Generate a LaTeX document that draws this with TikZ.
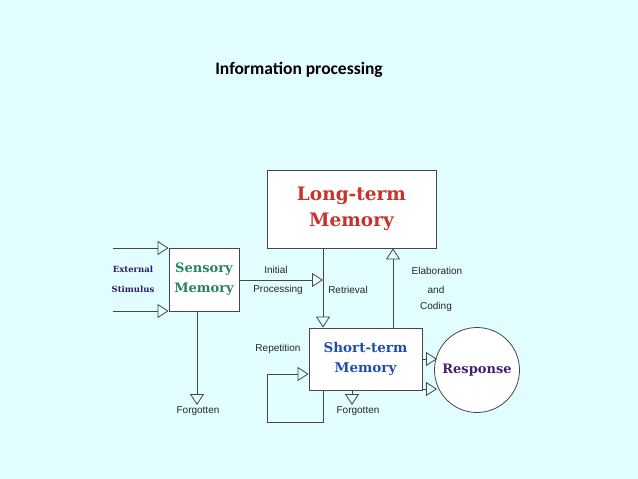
\documentclass[tikz,border=0pt]{standalone}
\usepackage{fontspec}
\usetikzlibrary{arrows.meta,positioning,calc}
\newfontfamily\boxfont{DejaVu Serif}
\newfontfamily\lblfont{Liberation Sans}
\newfontfamily\titlefont{Carlito}
\definecolor{bgcyan}{RGB}{225,253,255}
\definecolor{ltmred}{RGB}{200,50,45}
\definecolor{smgreen}{RGB}{40,130,100}
\definecolor{stmblue}{RGB}{30,80,170}
\definecolor{resppurple}{RGB}{70,30,110}
\definecolor{extnavy}{RGB}{50,30,100}
\definecolor{linegray}{RGB}{70,70,70}

\begin{document}
\begin{tikzpicture}[x=1pt,y=-1pt,
    membox/.style={draw=linegray,line width=0.8pt,fill=white,inner sep=0pt,align=center,font=\boxfont\bfseries},
    flow/.style={draw=linegray,line width=0.8pt,-{Triangle[open,length=11pt,width=14pt]}},
    lbl/.style={font=\lblfont\fontsize{10}{12}\selectfont,text=black!85}]
    % Background
    \useasboundingbox[fill=bgcyan] (0,0) rectangle (638,479);
    \node[font=\titlefont\bfseries\fontsize{17.5}{20}\selectfont] (title) at (299,70) {Information processing};

    % Memory stores
    \node[membox,minimum width=169pt,minimum height=78pt,text=ltmred,font=\boxfont\bfseries\fontsize{18.5}{26}\selectfont] (ltm) at (351.5,209) {Long-term\\Memory};
    \node[membox,minimum width=70pt,minimum height=63pt,text=smgreen,font=\boxfont\bfseries\fontsize{13}{20}\selectfont] (sm) at (204,279.5) {Sensory\\Memory};
    \node[membox,minimum width=113pt,minimum height=62pt,text=stmblue,font=\boxfont\bfseries\fontsize{13.5}{20}\selectfont] (stm) at (365.5,359) {Short-term\\Memory};
    \node[draw=linegray,line width=0.8pt,fill=white,circle,minimum size=85pt,inner sep=0pt,text=resppurple,font=\boxfont\bfseries\fontsize{13}{15}\selectfont] (resp) at (477,370) {Response};

    % Inputs
    \node[font=\boxfont\bfseries\fontsize{8.5}{10}\selectfont,text=extnavy] (ext1) at (133,269) {External};
    \node[font=\boxfont\bfseries\fontsize{8.5}{10}\selectfont,text=extnavy] (ext2) at (133,289) {Stimulus};
    \coordinate (in1) at (113,248);
    \coordinate (in2) at (113,311);
    \draw[flow] (in1) -- (in1 -| sm.west);
    \draw[flow] (in2) -- (in2 -| sm.west);

    % Helper coordinates
    \coordinate (rx) at (323,280);
    \coordinate (ex) at (393,0);
    \coordinate (sf) at (197,405);
    \coordinate (tf) at (352,405);
    \coordinate (r1) at (437,359);
    \coordinate (r2) at (437,389);
    \coordinate (lp) at (267,422);
    \coordinate (rep) at (0,374);

    % Connectors
    \draw[flow] (sm.east |- rx) -- (rx);
    \draw[flow] (ltm.south -| rx) -- (stm.north -| rx);
    \draw[flow] (stm.north -| ex) -- (ltm.south -| ex);
    \draw[flow] (sm.south -| sf) -- (sf);
    \draw[flow] (stm.south -| tf) -- (tf);
    \draw[flow] (stm.east |- r1) -- (r1);
    \draw[flow] (stm.east |- r2) -- (r2);
    \draw[flow] (stm.south -| rx) |- (lp) |- (stm.west |- rep);

    % Labels
    \node[lbl] (init) at (276,270) {Initial};
    \node[lbl] (proc) at (278,290) {Processing};
    \node[lbl] (retr) at (348,290) {Retrieval};
    \node[lbl] (elab) at (437,271) {Elaboration};
    \node[lbl] (and) at (436,290) {and};
    \node[lbl] (cod) at (436,307) {Coding};
    \node[lbl] (reptxt) at (278,349) {Repetition};
    \node[lbl] (forg1) at (198,411) {Forgotten};
    \node[lbl] (forg2) at (358,411) {Forgotten};
\end{tikzpicture}
\end{document}
